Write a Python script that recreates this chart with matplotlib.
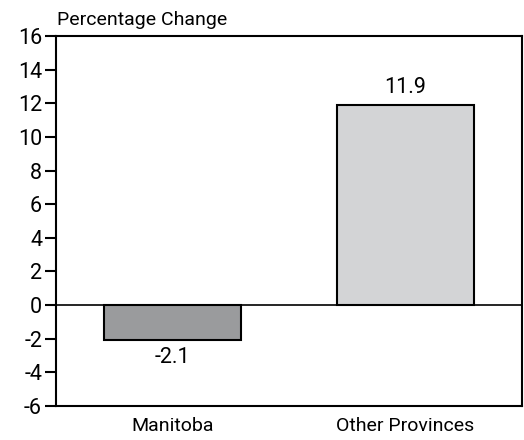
import matplotlib.pyplot as plt

# data
categories = ["Manitoba", "Other Provinces"]
values = [-2.1, 11.9]
colors = ["#9a9b9d", "#d3d4d6"]
yticks = list(range(-6, 17, 2))

plt.rcParams["font.family"] = ["Roboto", "DejaVu Sans"]
fs = 14
nfs = 15.5  # numbers look a bit bigger

fig = plt.figure(figsize=(5.24, 4.4), dpi=100)
ax = fig.add_axes([56/524, 1 - 406/440, 466/524, 370/440])

x = list(range(len(categories)))
bars = ax.bar(x, values, width=0.584, color=colors, edgecolor="black", linewidth=1.5, zorder=3)

ax.axhline(0, color="black", linewidth=1.2, zorder=2)

# value labels
for xi, v in zip(x, values):
    if v < 0:
        ax.text(xi, v - 0.4, f"{v:.1f}", ha="center", va="top", fontsize=nfs)
    else:
        ax.text(xi, v + 0.4, f"{v:.1f}", ha="center", va="bottom", fontsize=nfs)

ax.set_xlim(-0.5, 1.5)
ax.set_ylim(-6, 16)
ax.set_yticks(yticks)
ax.set_yticklabels([str(t) for t in yticks], fontsize=nfs)
ax.set_xticks(x)
ax.set_xticklabels(categories, fontsize=fs)
ax.tick_params(axis="x", length=0, pad=8)
ax.tick_params(axis="y", length=8, width=1.5, pad=2)

for s in ax.spines.values():
    s.set_linewidth(1.5)

fig.text(57/524, 1 - 20/440, "Percentage Change", ha="left", va="center", fontsize=fs)

fig.savefig("out.png", dpi=100)
